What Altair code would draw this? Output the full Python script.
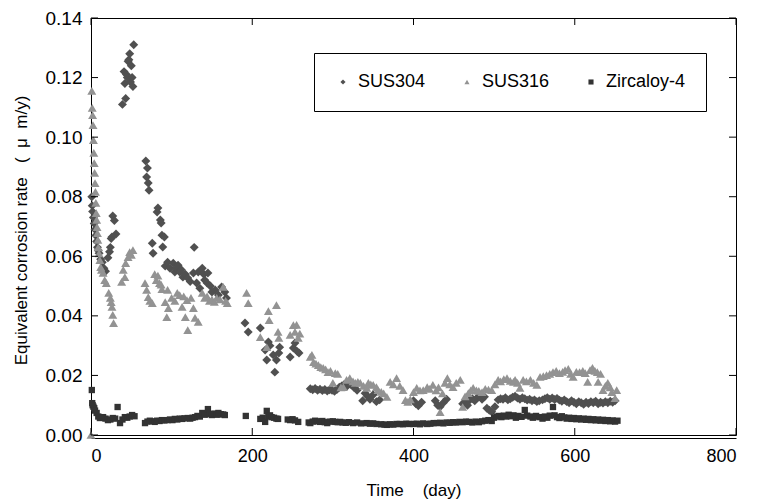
import altair as alt
import pandas as pd

FONT = "Liberation Sans"
NBSP = "\u00a0"

series_names = ["SUS304", "SUS316", "Zircaloy-4"]
series_colors = ["#505050", "#939393", "#333333"]
series_shapes = ["diamond", "triangle-up", "square"]

x_ticks = [0, 200, 400, 600, 800]
y_ticks = [0.0, 0.02, 0.04, 0.06, 0.08, 0.10, 0.12, 0.14]

# --- SUS304 (day, equivalent corrosion rate in um/y)
sus304_day = [1, 1.5, 2, 3, 4, 5, 6, 7, 8, 9, 10, 12, 14, 16, 18,
              21, 23, 24, 25, 26, 27, 29, 31,
              39, 43, 41, 42, 44, 45, 46, 47, 48, 49, 50, 51, 52, 53,
              68, 70, 69, 71, 72, 76, 77, 82, 83, 86, 87, 88, 89, 91,
              92, 95, 98, 102, 104, 106, 108, 110, 112, 114, 117, 120, 123, 127, 128, 131,
              133, 135, 138, 140, 141, 144, 145, 148, 150, 154, 158, 162, 166, 168,
              191, 195, 210, 216, 218, 220, 222, 226, 228, 230, 233, 234, 247, 251, 253, 256, 258,
              272, 275, 278, 281, 284, 287, 290, 293, 296, 299, 302, 305, 308, 311, 314, 317,
              320, 323, 326, 330, 337, 340, 343, 346, 350, 354, 358,
              400, 403, 406, 410, 427, 430, 433, 437, 441,
              461, 464, 467, 470, 473, 476, 479, 482, 485, 488, 491, 494, 497, 501,
              505, 508, 511, 514, 517, 520, 523, 526, 529, 532, 535, 538, 541, 544, 547, 550,
              553, 556, 560, 563, 566, 569, 572, 575, 578, 581, 584, 587, 590, 593, 596, 599,
              602, 605, 608, 611, 614, 617, 620, 623, 626, 629, 632, 635, 638, 641, 644, 647, 650]
sus304_rate = [0.080, 0.077, 0.075, 0.073, 0.071, 0.069, 0.067, 0.065, 0.063, 0.062, 0.061, 0.059, 0.058, 0.056, 0.055,
               0.0595, 0.0615, 0.063, 0.066, 0.0665, 0.0735, 0.072, 0.0675,
               0.111, 0.113, 0.122, 0.118, 0.121, 0.120, 0.1255, 0.126, 0.128, 0.1185, 0.124, 0.120, 0.117, 0.131,
               0.092, 0.0896, 0.0866, 0.0846, 0.0822, 0.0644, 0.061, 0.0749, 0.0762, 0.0722, 0.0712, 0.0671, 0.0631, 0.0665,
               0.0567, 0.058, 0.056, 0.0577, 0.0547, 0.056, 0.057, 0.0547, 0.0555, 0.053, 0.054, 0.0527, 0.0515, 0.0544, 0.063, 0.051,
               0.0547, 0.0493, 0.056, 0.054, 0.052, 0.051, 0.0544, 0.050, 0.048, 0.0487, 0.047, 0.0497, 0.048, 0.046,
               0.0376, 0.0346, 0.0359, 0.0285, 0.0252, 0.0312, 0.030, 0.0269, 0.0211, 0.0252, 0.0275, 0.0295, 0.0262, 0.0292, 0.0309, 0.028, 0.0275,
               0.0155, 0.0152, 0.0156, 0.0150, 0.0154, 0.0149, 0.0153, 0.0148, 0.0152, 0.0150, 0.0147, 0.0153, 0.0160, 0.0165, 0.0170, 0.0163,
               0.0172, 0.0168, 0.0160, 0.0150, 0.0115, 0.0140, 0.0130, 0.0120, 0.0135, 0.0112, 0.0118,
               0.0115, 0.0105, 0.0098, 0.0110, 0.0115, 0.0100, 0.0095, 0.0108, 0.0120,
               0.0105, 0.0112, 0.0100, 0.0118, 0.0122, 0.0115, 0.0125, 0.0130, 0.0120, 0.0128, 0.0090, 0.0083, 0.0078, 0.0095,
               0.0118, 0.0122, 0.0120, 0.0125, 0.0118, 0.0122, 0.0127, 0.0130, 0.0124, 0.0120, 0.0125, 0.0122, 0.0117, 0.0120, 0.0115, 0.0118,
               0.0112, 0.0115, 0.0118, 0.0122, 0.0125, 0.0120, 0.0124, 0.0119, 0.0123, 0.0117, 0.0113, 0.0118, 0.0112, 0.0108, 0.0115, 0.0110,
               0.0105, 0.0112, 0.0108, 0.0103, 0.0110, 0.0106, 0.0112, 0.0108, 0.0113, 0.0105, 0.0110, 0.0107, 0.0112, 0.0108, 0.0113, 0.0110, 0.0115]

# --- SUS316
sus316_day = [0, 1, 1.5, 2, 2.5, 3, 3.5, 4, 4.5, 5, 5.5, 6, 6.5, 7, 7.5, 8, 8.5, 9, 10, 11, 12, 13, 15, 17, 19,
              22, 24, 25, 26, 27, 28,
              38, 40, 42, 43, 46, 48, 50, 52,
              67, 69, 71, 73, 76,
              79, 81, 83, 85, 87, 88, 92, 94, 95, 96,
              100, 104, 107, 110, 113, 115, 117, 119, 120, 124, 127, 129, 133, 138, 141, 144, 147,
              150, 153, 156, 160, 164, 167, 169,
              193, 195, 210, 218, 220, 221, 230, 232, 233, 247, 251, 253, 255, 257, 259,
              272, 274, 276, 279, 282, 285, 288, 291, 294, 297, 300, 303, 306, 310, 313, 317,
              321, 325, 328, 331, 334, 338, 342, 344, 347, 350, 354, 356, 360, 363, 367, 371,
              375, 379, 383, 387, 390, 393, 396, 400, 404, 408, 412, 417, 420, 424, 428, 431,
              433, 436, 439, 442, 445, 449, 453, 458, 461, 464, 468, 471, 474, 478, 481, 485,
              489, 493, 497, 501, 505, 508, 512, 516, 520, 524, 526, 529, 532, 536, 540, 545,
              549, 553, 557, 561, 565, 569, 573, 577, 581, 585, 588, 592, 595, 598, 602, 606,
              610, 613, 616, 619, 622, 625, 628, 629, 632, 635, 638, 641, 644, 646, 650, 652]
sus316_rate = [0.0, 0.1155, 0.1098, 0.1074, 0.104, 0.099, 0.0947, 0.0913, 0.088, 0.0846, 0.0816, 0.0779, 0.0745,
               0.0722, 0.0698, 0.0678, 0.0655, 0.063, 0.061, 0.0587, 0.0564, 0.0554, 0.0544, 0.052, 0.051,
               0.0477, 0.046, 0.0446, 0.043, 0.0403, 0.0376,
               0.0514, 0.0554, 0.053, 0.0577, 0.0597, 0.0614, 0.0605, 0.0621,
               0.051, 0.0487, 0.0463, 0.045, 0.0443,
               0.054, 0.052, 0.0535, 0.051, 0.0505, 0.049, 0.0446, 0.0396, 0.0487, 0.0426,
               0.046, 0.045, 0.0477, 0.047, 0.043, 0.0465, 0.0396, 0.0453, 0.0352, 0.046, 0.0426, 0.0393, 0.038, 0.0477, 0.046, 0.0465, 0.045,
               0.0455, 0.0447, 0.046, 0.0455, 0.0497, 0.045, 0.0443,
               0.0477, 0.0443, 0.0329, 0.0295, 0.0416, 0.0386, 0.0436, 0.0346, 0.0326, 0.0336, 0.0369, 0.0346, 0.037, 0.0326, 0.034,
               0.0262, 0.0269, 0.0245, 0.024, 0.0235, 0.0228, 0.0225, 0.022, 0.0211, 0.0215, 0.0175, 0.0208, 0.0205, 0.0160, 0.0161, 0.0185,
               0.0191, 0.018, 0.0175, 0.0178, 0.0175, 0.0165, 0.0158, 0.0175, 0.0170, 0.0168, 0.0161, 0.0151, 0.0145, 0.0140, 0.0128, 0.0178,
               0.0170, 0.0191, 0.0165, 0.0151, 0.0117, 0.0111, 0.0120, 0.0144, 0.0158, 0.0150, 0.0151, 0.0161, 0.0155, 0.0168, 0.0150, 0.0160,
               0.0077, 0.0140, 0.0175, 0.0191, 0.0170, 0.0161, 0.0175, 0.0185, 0.0094, 0.0130, 0.0141, 0.0150, 0.0158, 0.0150, 0.0148, 0.0144,
               0.0155, 0.0152, 0.0151, 0.0170, 0.0185, 0.0180, 0.0188, 0.0191, 0.0182, 0.0178, 0.0185, 0.0175, 0.0158, 0.0185, 0.0180, 0.0185,
               0.0175, 0.0168, 0.0195, 0.0198, 0.0201, 0.0205, 0.0211, 0.0215, 0.0208, 0.0212, 0.0218, 0.0222, 0.0205, 0.0195, 0.0212, 0.0211,
               0.0215, 0.0208, 0.0178, 0.0218, 0.0225, 0.0215, 0.0211, 0.0178, 0.0205, 0.0151, 0.0165, 0.0175, 0.0160, 0.0144, 0.0124, 0.0151]

# --- Zircaloy-4
zry4_day = [1, 1.5, 2, 3, 4, 5, 7, 9, 11, 13, 15, 18, 21, 24, 27, 30, 33, 36, 39, 42, 45, 48, 51, 54,
            67, 70, 73, 76, 79, 82, 85, 88, 91, 95, 98, 101, 104, 107, 110, 113, 116, 120, 123, 126,
            129, 132, 135, 138, 141, 145, 147, 150, 153, 156, 158, 161, 164, 166,
            192, 210, 213, 216, 218, 220, 222, 224, 227, 230, 232, 244, 247, 250, 253, 257,
            270, 272, 275, 278, 281, 284, 287, 290, 293, 296, 300, 303, 306, 309, 312, 316,
            320, 325, 330, 335, 342, 346, 350, 354, 360, 364, 367, 371, 375, 379, 383, 387,
            391, 395, 400, 404, 408, 412, 417, 421, 425, 429, 433, 437, 441, 445, 449, 453,
            457, 461, 465, 469, 473, 477, 481, 485, 489, 493, 497, 500, 503, 506, 509, 512,
            515, 518, 521, 524, 527, 530, 534, 538, 541, 545, 548, 552, 556, 560, 563, 566,
            569, 573, 575, 578, 581, 584, 587, 590, 593, 596, 599, 602, 605, 608, 611, 614,
            617, 620, 623, 626, 629, 632, 635, 638, 641, 644, 647, 650, 653]
zry4_rate = [0.0151, 0.0107, 0.0100, 0.0095, 0.0090, 0.0082, 0.0074, 0.0062, 0.0057, 0.0058, 0.0060, 0.0055,
             0.0050, 0.0052, 0.0057, 0.0055, 0.0094, 0.0040, 0.0052, 0.0060, 0.0058, 0.0062, 0.0067, 0.0063,
             0.0040, 0.0045, 0.0048, 0.0046, 0.0044, 0.0048, 0.0047, 0.0050, 0.0049, 0.0050, 0.0052, 0.0050,
             0.0054, 0.0052, 0.0055, 0.0054, 0.0056, 0.0057, 0.0055, 0.0058,
             0.0060, 0.0064, 0.0062, 0.0074, 0.0068, 0.0087, 0.0070, 0.0067, 0.0072, 0.0068, 0.0074, 0.0070, 0.0069, 0.0067,
             0.0064, 0.0054, 0.0058, 0.0044, 0.0081, 0.0062, 0.0066, 0.0060, 0.0058, 0.0055, 0.0054, 0.0052, 0.0050, 0.0053, 0.0049, 0.0044,
             0.0042, 0.0040, 0.0045, 0.0048, 0.0046, 0.0044, 0.0047, 0.0043, 0.0040, 0.0045, 0.0046, 0.0044, 0.0043, 0.0044, 0.0042, 0.0041,
             0.0043, 0.0040, 0.0042, 0.0039, 0.0040, 0.0038, 0.0039, 0.0037, 0.0036, 0.0035, 0.0034, 0.0036, 0.0035, 0.0037, 0.0037, 0.0036,
             0.0038, 0.0037, 0.0037, 0.0038, 0.0036, 0.0039, 0.0037, 0.0038, 0.0040, 0.0040, 0.0041, 0.0039, 0.0042, 0.0041, 0.0043, 0.0042,
             0.0044, 0.0043, 0.0045, 0.0044, 0.0042, 0.0045, 0.0043, 0.0046, 0.0048, 0.0050, 0.0047, 0.0058, 0.0062, 0.0064, 0.0060, 0.0065,
             0.0062, 0.0068, 0.0063, 0.0066, 0.0058, 0.0064, 0.0061, 0.0084, 0.0065, 0.0062, 0.0058, 0.0064, 0.0060, 0.0055, 0.0062, 0.0058,
             0.0065, 0.0094, 0.0066, 0.0060, 0.0057, 0.0063, 0.0059, 0.0055, 0.0058, 0.0054, 0.0057, 0.0053, 0.0056, 0.0052, 0.0055, 0.0051,
             0.0054, 0.0050, 0.0053, 0.0049, 0.0052, 0.0048, 0.0051, 0.0047, 0.0050, 0.0046, 0.0049, 0.0045, 0.0048]

rows = []
for name, days, rates in [("SUS304", sus304_day, sus304_rate),
                          ("SUS316", sus316_day, sus316_rate),
                          ("Zircaloy-4", zry4_day, zry4_rate)]:
    rows += [{"series": name, "day": d, "rate": r} for d, r in zip(days, rates)]
data = pd.DataFrame(rows)

x_scale = alt.Scale(domain=[0, 800], nice=False, zero=False)
y_scale = alt.Scale(domain=[0, 0.14], nice=False)

x_title = "Time" + NBSP * 4 + "(day)"
y_title = "Equivalent corrosion rate" + NBSP * 3 + "(" + NBSP * 2 + "μ" + NBSP * 2 + "m/y)"

# the same axis objects are handed to every layer so that they merge cleanly
x_axis = alt.Axis(values=x_ticks, tickSize=0, labelPadding=9, offset=3,
                  domainColor="black", grid=False,
                  title=x_title, titleY=52, titleBaseline="middle")
y_axis = alt.Axis(values=y_ticks, format=".2f", tickSize=0, labelPadding=9,
                  labelFontSize=19, domain=False, grid=False,
                  title=y_title,
                  titleX=-70, titleY=212, titleAngle=-90,
                  titleAlign="center", titleBaseline="middle")

legend_def = alt.Legend(
    title=None, orient="none", legendX=223, legendY=35, direction="horizontal",
    labelFont=FONT, labelFontSize=18, labelColor="black", labelOffset=6,
    symbolSize=26, symbolStrokeWidth=0, columnPadding=32,
    strokeColor="black", fillColor="white", padding=20,
)

points = alt.Chart(data).mark_point(filled=True, opacity=1, strokeWidth=0).encode(
    x=alt.X("day:Q", scale=x_scale, axis=x_axis),
    y=alt.Y("rate:Q", scale=y_scale, axis=y_axis),
    color=alt.Color("series:N", scale=alt.Scale(domain=series_names, range=series_colors), legend=legend_def),
    shape=alt.Shape("series:N", scale=alt.Scale(domain=series_names, range=series_shapes), legend=legend_def),
    # smaller squares for Zircaloy-4, larger diamonds / triangles for the steels
    size=alt.condition(alt.datum.series == "Zircaloy-4", alt.value(40), alt.value(80)),
)

# inward-pointing tick marks on all four sides of the frame
y_tick_df = pd.DataFrame({"rate": y_ticks})
x_tick_df = pd.DataFrame({"day": x_ticks})
tick_len = 7

left_ticks = alt.Chart(y_tick_df).mark_rule(color="black", strokeWidth=1).encode(
    y=alt.Y("rate:Q", scale=y_scale, axis=y_axis), x=alt.value(0), x2=alt.value(tick_len))
right_ticks = alt.Chart(y_tick_df).mark_rule(color="black", strokeWidth=1).encode(
    y=alt.Y("rate:Q", scale=y_scale, axis=y_axis), x=alt.value(645), x2=alt.value(645 - tick_len))
bottom_ticks = alt.Chart(x_tick_df).mark_rule(color="black", strokeWidth=1).encode(
    x=alt.X("day:Q", scale=x_scale, axis=x_axis), y=alt.value(417), y2=alt.value(417 - tick_len))
top_ticks = alt.Chart(x_tick_df).mark_rule(color="black", strokeWidth=1).encode(
    x=alt.X("day:Q", scale=x_scale, axis=x_axis), y=alt.value(0), y2=alt.value(tick_len))

chart = alt.layer(points, left_ticks, right_ticks, bottom_ticks, top_ticks).properties(
    width=645, height=417,
    padding={"left": 91, "top": 18, "right": 26, "bottom": 65},
    autosize=alt.AutoSizeParams(type="none"),
    background="white",
).configure_view(
    stroke="black", strokeWidth=1,
).configure_axis(
    labelFont=FONT, labelFontSize=18, labelColor="black",
    titleFont=FONT, titleFontSize=17, titleFontWeight="normal", titleColor="black",
)

chart.save("out.html", embed_options={"renderer": "svg", "actions": False})
